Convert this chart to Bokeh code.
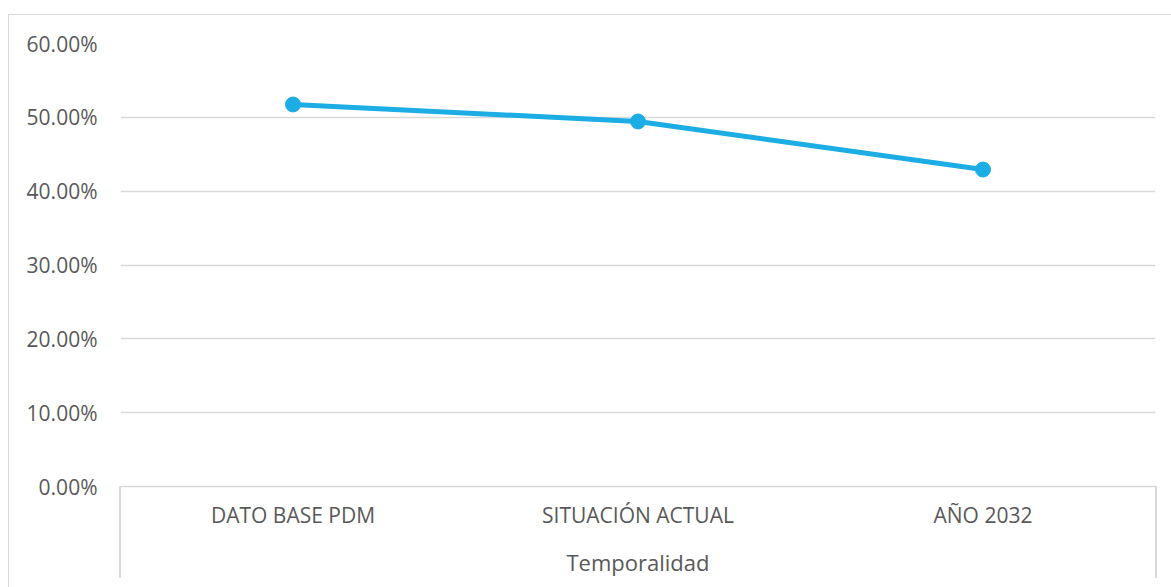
from bokeh.plotting import figure
from bokeh.models import FactorRange, NumeralTickFormatter, FixedTicker, Range1d, InlineStyleSheet
from bokeh.embed import file_html
from bokeh.resources import INLINE

categories = ["DATO BASE PDM", "SITUACIÓN ACTUAL", "AÑO 2032"]
values = [0.5174, 0.4944, 0.4293]
y_ticks = [0.0, 0.1, 0.2, 0.3, 0.4, 0.5, 0.6]
x_title = "Temporalidad"

FONT = "Open Sans"
TEXT = "#595959"
GRID = "#d9d9d9"
BLUE = "#1CADE4"

# chart-area border (left/top) and the category box side lines, as page decoration
css = InlineStyleSheet(css="""
:host::after {
  content: ""; position: absolute; left: 8px; top: 14px; right: 0px; bottom: 0px;
  border-left: 1px solid #d9d9d9; border-top: 1px solid #d9d9d9;
  pointer-events: none; z-index: 10;
}
:host::before {
  content: ""; position: absolute; left: 119px; top: 486px; width: 1034px; height: 92px;
  border-left: 2px solid #d9d9d9; border-right: 2px solid #d9d9d9;
  pointer-events: none; z-index: 10;
}
""")

p = figure(
    width=1171, height=587,
    x_range=FactorRange(*categories, range_padding=0),
    y_range=Range1d(0, 0.6),
    output_backend="svg", toolbar_location=None,
    min_border_left=120, min_border_right=16, min_border_top=43, min_border_bottom=101,
    stylesheets=[css],
)
p.outline_line_color = None
p.background_fill_color = "white"
p.border_fill_color = "white"

p.xgrid.grid_line_color = None
p.ygrid.grid_line_color = GRID
p.ygrid.grid_line_width = 1.5

p.yaxis.ticker = FixedTicker(ticks=y_ticks)
p.yaxis.formatter = NumeralTickFormatter(format="0.00%")
p.yaxis.axis_line_color = None
p.yaxis.major_tick_line_color = None
p.yaxis.minor_tick_line_color = None
p.yaxis.major_tick_out = 0
p.yaxis.major_tick_in = 0
p.yaxis.major_label_standoff = 23
p.yaxis.major_label_text_font = FONT
p.yaxis.major_label_text_font_size = "21px"
p.yaxis.major_label_text_color = TEXT

p.xaxis.axis_line_color = GRID
p.xaxis.axis_line_width = 1.5
p.xaxis.major_tick_line_color = None
p.xaxis.major_tick_out = 0
p.xaxis.major_tick_in = 0
p.xaxis.major_label_standoff = 14
p.xaxis.major_label_text_font = FONT
p.xaxis.major_label_text_font_size = "21px"
p.xaxis.major_label_text_color = TEXT
p.xaxis.axis_label = x_title
p.xaxis.axis_label_standoff = 15
p.xaxis.axis_label_text_font = FONT
p.xaxis.axis_label_text_font_size = "22px"
p.xaxis.axis_label_text_font_style = "normal"
p.xaxis.axis_label_text_color = TEXT

p.line(x=categories, y=values, line_color=BLUE, line_width=5)
p.scatter(x=categories, y=values, size=15, fill_color=BLUE, line_color=BLUE)

open("out.html", "w").write(file_html(p, INLINE))
